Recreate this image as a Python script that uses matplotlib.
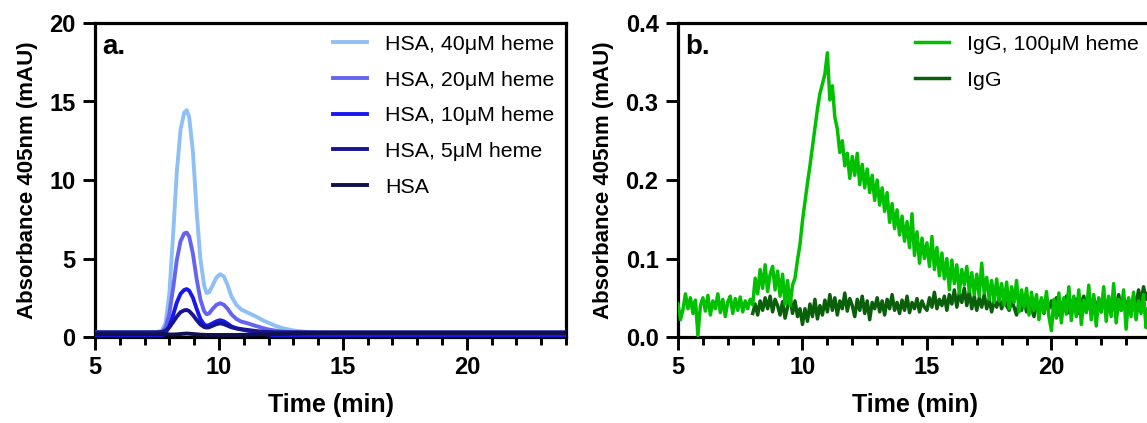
import matplotlib
matplotlib.use("Agg")
import matplotlib.pyplot as plt
import numpy as np
from matplotlib.ticker import MultipleLocator, FormatStrFormatter

plt.rcParams["font.family"] = ["Liberation Sans", "DejaVu Sans"]

# ---- panel a: HSA chromatograms (knots) ----
T_LEFT = [5, 6, 7, 7.5, 7.7, 7.85, 8.0, 8.15, 8.3, 8.45, 8.6, 8.7, 8.8, 8.95,
          9.1, 9.25, 9.4, 9.5, 9.6, 9.75, 9.9, 10.05, 10.2, 10.35, 10.5, 10.7,
          10.9, 11.1, 11.3, 11.5, 11.75, 12.0, 12.3, 12.6, 13.0, 13.5, 14.0,
          15, 18, 21, 24]
HSA_40 = [0.3, 0.3, 0.3, 0.32, 0.4, 0.9, 2.8, 6.5, 10.5, 13.2, 14.3, 14.45,
          14.0, 11.8, 8.0, 5.0, 3.3, 2.8, 2.85, 3.3, 3.8, 4.0, 3.85, 3.3, 2.6,
          2.05, 1.75, 1.6, 1.45, 1.3, 1.08, 0.9, 0.7, 0.55, 0.42, 0.32, 0.28,
          0.27, 0.27, 0.27, 0.27]
HSA_20 = [0.28, 0.28, 0.28, 0.29, 0.33, 0.6, 1.5, 3.1, 4.9, 6.1, 6.6, 6.65,
          6.4, 5.3, 3.7, 2.4, 1.65, 1.45, 1.5, 1.8, 2.05, 2.15, 2.05, 1.8, 1.45,
          1.15, 0.98, 0.9, 0.8, 0.7, 0.58, 0.48, 0.4, 0.34, 0.3, 0.28, 0.27,
          0.27, 0.27, 0.27, 0.27]
HSA_10 = [0.03, 0.03, 0.03, 0.03, 0.05, 0.25, 0.7, 1.4, 2.2, 2.75, 3.0, 3.05,
          2.95, 2.5, 1.8, 1.15, 0.8, 0.72, 0.75, 0.88, 1.0, 1.07, 1.0, 0.85,
          0.68, 0.55, 0.48, 0.42, 0.36, 0.3, 0.22, 0.16, 0.1, 0.07, 0.05, 0.04,
          0.03, 0.03, 0.03, 0.03, 0.03]
HSA_5 = [0.3, 0.3, 0.3, 0.3, 0.32, 0.4, 0.62, 0.95, 1.3, 1.58, 1.7, 1.72,
         1.65, 1.4, 1.08, 0.8, 0.64, 0.6, 0.62, 0.72, 0.82, 0.87, 0.82, 0.72,
         0.62, 0.55, 0.5, 0.46, 0.42, 0.38, 0.34, 0.32, 0.3, 0.3, 0.3, 0.3,
         0.3, 0.3, 0.3, 0.3, 0.3]
HSA_0 = [0.18, 0.18, 0.18, 0.18, 0.18, 0.17, 0.16, 0.16, 0.17, 0.19, 0.21,
         0.22, 0.21, 0.19, 0.17, 0.15, 0.14, 0.13, 0.13, 0.13, 0.13, 0.13,
         0.13, 0.13, 0.13, 0.13, 0.14, 0.14, 0.15, 0.16, 0.17, 0.18, 0.19,
         0.2, 0.22, 0.24, 0.25, 0.25, 0.25, 0.25, 0.25]
LEFT_LABELS = ["HSA, 40\u03bcM heme", "HSA, 20\u03bcM heme",
               "HSA, 10\u03bcM heme", "HSA, 5\u03bcM heme", "HSA"]
LEFT_COLORS = ["#8fc0f5", "#6464f0", "#1818ee", "#161694", "#10104e"]

# ---- panel b: IgG traces, one reading every 0.1 min ----
IGG_HEME_START = 5.0
IGG_HEME = [
    0.042, 0.022, 0.035, 0.055, 0.036, 0.050, 0.030, 0.047, 0.002, 0.040,
    0.050, 0.033, 0.053, 0.028, 0.046, 0.036, 0.055, 0.031, 0.048, 0.026,
    0.045, 0.052, 0.030, 0.049, 0.034, 0.051, 0.032, 0.046, 0.036, 0.048,
    0.041, 0.075, 0.055, 0.086, 0.062, 0.092, 0.058, 0.080, 0.090, 0.060,
    0.084, 0.052, 0.080, 0.042, 0.072, 0.040, 0.066, 0.075, 0.098, 0.118,
    0.148, 0.172, 0.196, 0.218, 0.242, 0.265, 0.290, 0.310, 0.322, 0.335,
    0.362, 0.302, 0.320, 0.280, 0.265, 0.235, 0.250, 0.218, 0.234, 0.202,
    0.230, 0.206, 0.234, 0.194, 0.220, 0.190, 0.214, 0.184, 0.206, 0.174,
    0.200, 0.168, 0.190, 0.160, 0.184, 0.146, 0.170, 0.138, 0.162, 0.130,
    0.154, 0.122, 0.147, 0.114, 0.157, 0.104, 0.134, 0.094, 0.126, 0.100,
    0.120, 0.090, 0.128, 0.086, 0.114, 0.078, 0.107, 0.074, 0.100, 0.060,
    0.098, 0.068, 0.092, 0.056, 0.086, 0.066, 0.090, 0.058, 0.082, 0.054,
    0.080, 0.052, 0.094, 0.056, 0.076, 0.048, 0.072, 0.044, 0.074, 0.046,
    0.068, 0.041, 0.070, 0.036, 0.064, 0.044, 0.072, 0.032, 0.060, 0.038,
    0.062, 0.028, 0.057, 0.034, 0.054, 0.022, 0.050, 0.031, 0.058, 0.026,
    0.008, 0.048, 0.024, 0.056, 0.018, 0.050, 0.029, 0.064, 0.021, 0.052,
    0.026, 0.060, 0.016, 0.047, 0.031, 0.066, 0.022, 0.054, 0.014, 0.050,
    0.032, 0.064, 0.020, 0.052, 0.026, 0.068, 0.018, 0.048, 0.034, 0.060,
    0.010, 0.050, 0.026, 0.057, 0.022, 0.046, 0.030, 0.054, 0.012, 0.042,
    0.030,
]
IGG_START = 8.0
IGG = [
    0.030, 0.042, 0.028, 0.046, 0.034, 0.050, 0.036, 0.052, 0.032, 0.048,
    0.040, 0.028, 0.045, 0.024, 0.038, 0.052, 0.030, 0.046, 0.026, 0.036,
    0.016, 0.036, 0.020, 0.042, 0.026, 0.048, 0.023, 0.040, 0.028, 0.047,
    0.032, 0.054, 0.034, 0.050, 0.028, 0.046, 0.036, 0.056, 0.033, 0.049,
    0.040, 0.026, 0.048, 0.034, 0.052, 0.030, 0.046, 0.022, 0.044, 0.036,
    0.050, 0.032, 0.046, 0.028, 0.048, 0.036, 0.054, 0.034, 0.044, 0.030,
    0.047, 0.034, 0.052, 0.031, 0.044, 0.036, 0.049, 0.032, 0.046, 0.038,
    0.034, 0.050, 0.038, 0.057, 0.036, 0.048, 0.040, 0.052, 0.034, 0.054,
    0.042, 0.060, 0.038, 0.056, 0.044, 0.062, 0.040, 0.058, 0.036, 0.052,
    0.034, 0.050, 0.038, 0.054, 0.036, 0.048, 0.032, 0.046, 0.038, 0.050,
    0.036, 0.048, 0.040, 0.034, 0.046, 0.038, 0.028, 0.044, 0.034, 0.048,
    0.032, 0.046, 0.036, 0.026, 0.042, 0.034, 0.048, 0.030, 0.044, 0.036,
    0.046, 0.032, 0.050, 0.028, 0.044, 0.034, 0.052, 0.031, 0.046, 0.036,
    0.048, 0.030, 0.044, 0.052, 0.034, 0.046, 0.028, 0.050, 0.036, 0.047,
    0.032, 0.052, 0.038, 0.048, 0.030, 0.046, 0.036, 0.054, 0.034, 0.050,
    0.038, 0.048, 0.032, 0.052, 0.040, 0.060, 0.044, 0.064, 0.048, 0.058,
    0.046,
]
STEP = 0.1
RIGHT_LABELS = ["IgG, 100\u03bcM heme", "IgG"]
RIGHT_COLORS = ["#00c000", "#0a600a"]

W, H = 1147, 423


def style_axes(ax, ymax, ystep):
    ax.set_xlim(5, 24)
    ax.set_ylim(0, ymax)
    ax.xaxis.set_major_locator(MultipleLocator(5))
    ax.xaxis.set_minor_locator(MultipleLocator(1))
    ax.yaxis.set_major_locator(MultipleLocator(ystep))
    for s in ax.spines.values():
        s.set_linewidth(2.3)
    ax.tick_params(axis="both", which="major", length=9, width=2.1,
                   labelsize=17, pad=5)
    ax.tick_params(axis="x", which="minor", length=6, width=2.1)
    ax.set_xlabel("Time (min)", fontsize=18, fontweight="bold", labelpad=10)
    ax.set_ylabel("Absorbance 405nm (mAU)", fontsize=16, fontweight="bold",
                  labelpad=8)


def bold_ticks(ax):
    for lab in ax.get_xticklabels() + ax.get_yticklabels():
        lab.set_fontweight("bold")


fig = plt.figure(figsize=(W / 100, H / 100), dpi=100)
bottom = (H - 337) / H
height = (337 - 23) / H
leg_kw = dict(loc="upper left", frameon=False, fontsize=15.4,
              handlelength=1.6, handletextpad=0.85, labelspacing=0.78,
              borderpad=0, borderaxespad=0)

ax1 = fig.add_axes([95 / W, bottom, (566 - 95) / W, height])
for vals, lab, col in zip([HSA_40, HSA_20, HSA_10, HSA_5, HSA_0],
                          LEFT_LABELS, LEFT_COLORS):
    ax1.plot(T_LEFT, vals, color=col, lw=2.8, label=lab, zorder=3,
             solid_joinstyle="round")
style_axes(ax1, 20, 5)
bold_ticks(ax1)
ax1.text(0.016, 0.925, "a.", transform=ax1.transAxes, fontsize=20,
         fontweight="bold", va="center", ha="left")
ax1.legend(bbox_to_anchor=(0.505, 0.962), **leg_kw)

ax2 = fig.add_axes([678 / W, bottom, (1151 - 678) / W, height])
t_heme = IGG_HEME_START + STEP * np.arange(len(IGG_HEME))
t_igg = IGG_START + STEP * np.arange(len(IGG))
l_igg, = ax2.plot(t_igg, IGG, color=RIGHT_COLORS[1], lw=2.5,
                  label=RIGHT_LABELS[1], zorder=3)
l_heme, = ax2.plot(t_heme, IGG_HEME, color=RIGHT_COLORS[0], lw=2.5,
                   label=RIGHT_LABELS[0], zorder=3)
style_axes(ax2, 0.4, 0.1)
ax2.yaxis.set_major_formatter(FormatStrFormatter("%.1f"))
bold_ticks(ax2)
ax2.text(0.016, 0.925, "b.", transform=ax2.transAxes, fontsize=20,
         fontweight="bold", va="center", ha="left")
ax2.legend(handles=[l_heme, l_igg],
           bbox_to_anchor=((915 - 678) / (1151 - 678), 0.962), **leg_kw)

fig.savefig("out.png", dpi=100)
